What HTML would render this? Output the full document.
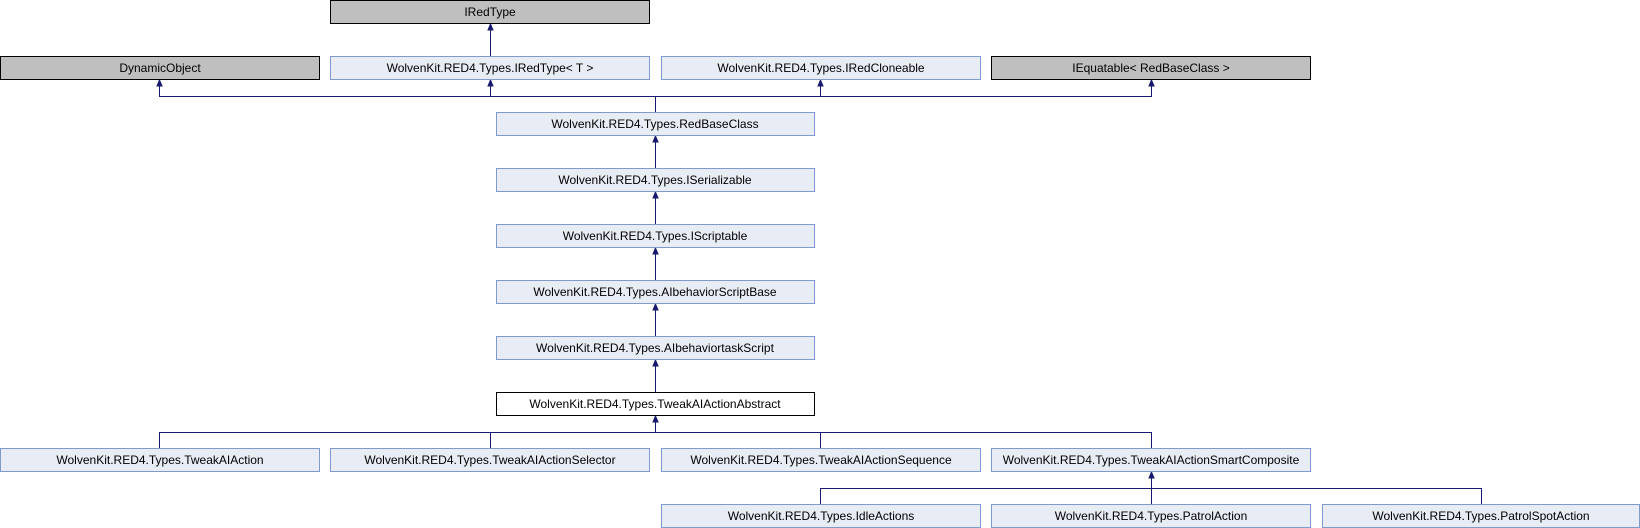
<!DOCTYPE html>
<html><head><meta charset="utf-8"><style>
html,body{margin:0;padding:0;background:#fff;}
svg{display:block;}
text{font-family:"Liberation Sans",Arial,sans-serif;font-size:12px;fill:#000;}
.b{fill:#e8ecf5;stroke:#7f9acc;stroke-width:1;}
.g{fill:#bfbfbf;stroke:#000;stroke-width:1;}
.w{fill:#fff;stroke:#000;stroke-width:1;}
.l{stroke:#191970;stroke-width:1;fill:none;}
.a{fill:#191970;stroke:#191970;}
</style></head><body>
<svg width="1640" height="528" viewBox="0 0 1640 528" xmlns="http://www.w3.org/2000/svg">
<!-- connectors -->
<g class="l">
<path d="M490.5 56V28"/>
<path d="M655.5 112V96.5H159.5V84"/>
<path d="M490.5 96.5V84"/>
<path d="M655.5 96.5H1151.5V84"/>
<path d="M820.5 96.5V84"/>
<path d="M655.5 168V140"/>
<path d="M655.5 224V196"/>
<path d="M655.5 280V252"/>
<path d="M655.5 336V308"/>
<path d="M655.5 392V364"/>
<path d="M159.5 448V432.5H1151.5V448"/>
<path d="M490.5 448V432.5"/>
<path d="M820.5 448V432.5"/>
<path d="M655.5 432.5V420"/>
<path d="M820.5 504V488.5H1481.5V504"/>
<path d="M1151.5 504V476"/>
</g>
<g class="a">
<path d="M490.5 24l-2.5 6h5z"/>
<path d="M159.5 80l-2.5 6h5z"/>
<path d="M490.5 80l-2.5 6h5z"/>
<path d="M820.5 80l-2.5 6h5z"/>
<path d="M1151.5 80l-2.5 6h5z"/>
<path d="M655.5 136l-2.5 6h5z"/>
<path d="M655.5 192l-2.5 6h5z"/>
<path d="M655.5 248l-2.5 6h5z"/>
<path d="M655.5 304l-2.5 6h5z"/>
<path d="M655.5 360l-2.5 6h5z"/>
<path d="M655.5 416l-2.5 6h5z"/>
<path d="M1151.5 472l-2.5 6h5z"/>
</g>
<!-- boxes -->
<rect class="g" x="330.5" y="0.5" width="319" height="23"/>
<text x="490" y="16" text-anchor="middle">IRedType</text>

<rect class="g" x="0.5" y="56.5" width="319" height="23"/>
<text x="160" y="72" text-anchor="middle">DynamicObject</text>
<rect class="b" x="330.5" y="56.5" width="319" height="23"/>
<text x="490" y="72" text-anchor="middle">WolvenKit.RED4.Types.IRedType&lt; T &gt;</text>
<rect class="b" x="661.5" y="56.5" width="319" height="23"/>
<text x="821" y="72" text-anchor="middle">WolvenKit.RED4.Types.IRedCloneable</text>
<rect class="g" x="991.5" y="56.5" width="319" height="23"/>
<text x="1151" y="72" text-anchor="middle">IEquatable&lt; RedBaseClass &gt;</text>

<rect class="b" x="496.5" y="112.5" width="318" height="23"/>
<text x="655" y="128" text-anchor="middle">WolvenKit.RED4.Types.RedBaseClass</text>
<rect class="b" x="496.5" y="168.5" width="318" height="23"/>
<text x="655" y="184" text-anchor="middle">WolvenKit.RED4.Types.ISerializable</text>
<rect class="b" x="496.5" y="224.5" width="318" height="23"/>
<text x="655" y="240" text-anchor="middle">WolvenKit.RED4.Types.IScriptable</text>
<rect class="b" x="496.5" y="280.5" width="318" height="23"/>
<text x="655" y="296" text-anchor="middle">WolvenKit.RED4.Types.AIbehaviorScriptBase</text>
<rect class="b" x="496.5" y="336.5" width="318" height="23"/>
<text x="655" y="352" text-anchor="middle">WolvenKit.RED4.Types.AIbehaviortaskScript</text>
<rect class="w" x="496.5" y="392.5" width="318" height="23"/>
<text x="655" y="408" text-anchor="middle">WolvenKit.RED4.Types.TweakAIActionAbstract</text>

<rect class="b" x="0.5" y="448.5" width="319" height="23"/>
<text x="160" y="464" text-anchor="middle">WolvenKit.RED4.Types.TweakAIAction</text>
<rect class="b" x="330.5" y="448.5" width="319" height="23"/>
<text x="490" y="464" text-anchor="middle">WolvenKit.RED4.Types.TweakAIActionSelector</text>
<rect class="b" x="661.5" y="448.5" width="319" height="23"/>
<text x="821" y="464" text-anchor="middle">WolvenKit.RED4.Types.TweakAIActionSequence</text>
<rect class="b" x="991.5" y="448.5" width="319" height="23"/>
<text x="1151" y="464" text-anchor="middle">WolvenKit.RED4.Types.TweakAIActionSmartComposite</text>

<rect class="b" x="661.5" y="504.5" width="319" height="23"/>
<text x="821" y="520" text-anchor="middle">WolvenKit.RED4.Types.IdleActions</text>
<rect class="b" x="991.5" y="504.5" width="319" height="23"/>
<text x="1151" y="520" text-anchor="middle">WolvenKit.RED4.Types.PatrolAction</text>
<rect class="b" x="1322.5" y="504.5" width="317" height="23"/>
<text x="1481" y="520" text-anchor="middle">WolvenKit.RED4.Types.PatrolSpotAction</text>
</svg>
</body></html>
